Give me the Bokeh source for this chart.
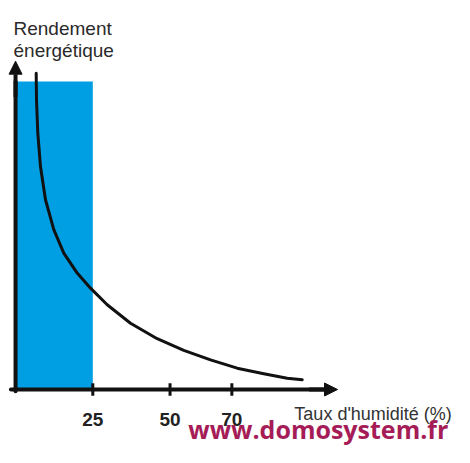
from bokeh.plotting import figure
from bokeh.models import Arrow, NormalHead, Range1d
from bokeh.core.properties import value
from bokeh.embed import file_html
from bokeh.resources import INLINE

# ---- data ----
humidity = [6.68, 6.78, 7.20, 8.07, 9.69, 12.38, 15.61, 19.95, 24.26, 29.66,
            37.2, 45.84, 54.45, 63.09, 71.73, 80.34, 87.91, 92.77]
rendement = [102.7, 94.06, 83.2, 72.4, 61.6, 51.9, 44.3, 37.8, 32.9, 27.5,
             21.5, 16.5, 12.7, 9.64, 6.92, 5.10, 3.67, 3.15]
zone_start = 0
zone_end = 25
zone_top = 100
tick_values = [25, 50, 70]
tick_labels = ["25", "50", "70"]
x_title = "Taux d'humidité (%)"
y_title = ["Rendement", "énergétique"]
credit = "www.domosystem.fr"

# ---- layout ----
W, H = 454, 447
sx, sy = 3.09, 3.08          # pixels per data unit
x0_px, y0_px = 15.05, 389.0   # canvas position of the origin
xr = Range1d(-x0_px / sx, (W - x0_px) / sx)
yr = Range1d(-(H - y0_px) / sy, y0_px / sy)

p = figure(width=W, height=H, x_range=xr, y_range=yr, output_backend="svg",
           toolbar_location=None, x_axis_type=None, y_axis_type=None,
           min_border=0, outline_line_color=None)
p.grid.visible = False
p.background_fill_color = "white"
p.border_fill_color = "white"

# blue zone
p.quad(left=[zone_start], right=[zone_end], bottom=[0], top=[zone_top],
       fill_color="#009fe3", line_color=None)

# curve
p.line(humidity, rendement, line_color="#111111", line_width=3,
       line_join="round", line_cap="round")

# axes
ink = "#111111"
p.segment(x0=[-1.5], y0=[0], x1=[100], y1=[0], line_color=ink,
          line_width=4, line_cap="round")
p.segment(x0=[0], y0=[-0.6], x1=[0], y1=[100], line_color=ink,
          line_width=4, line_cap="round")
p.add_layout(Arrow(end=NormalHead(size=13, fill_color=ink, line_color=ink),
                   x_start=95, y_start=0, x_end=104.2, y_end=0,
                   line_color=ink, line_width=4))
p.add_layout(Arrow(end=NormalHead(size=13, fill_color=ink, line_color=ink),
                   x_start=0, y_start=95, x_end=0, y_end=106.6,
                   line_color=ink, line_width=4))

# ticks
p.segment(x0=tick_values, y0=[-2.0] * len(tick_values), x1=tick_values,
          y1=[2.0] * len(tick_values), line_color=ink, line_width=3)
p.text(x=tick_values, y=[-9.7] * len(tick_values), text=tick_labels,
       text_font=value("Liberation Sans"), text_font_size="19px",
       text_font_style="bold", text_color="#222222", text_align="center",
       text_baseline="alphabetic")

# titles
p.text(x=[141.2], y=[-8.1], text=[x_title], text_font=value("Liberation Sans"),
       text_font_size="18px", text_color="#333333", text_align="right",
       text_baseline="alphabetic")
p.text(x=[-0.66, -0.66], y=[117.2, 110.0], text=y_title,
       text_font=value("Liberation Sans"), text_font_size="19px",
       text_color="#2a2a2a", text_align="left", text_baseline="alphabetic")

# credit
p.text(x=[55.9], y=[-18.5], text=[credit], text_font=value("Open Sans"),
       text_font_size="25px", text_font_style="bold", text_color="#a51c57",
       text_align="left", text_baseline="bottom")

open("out.html", "w").write(file_html(p, INLINE))
